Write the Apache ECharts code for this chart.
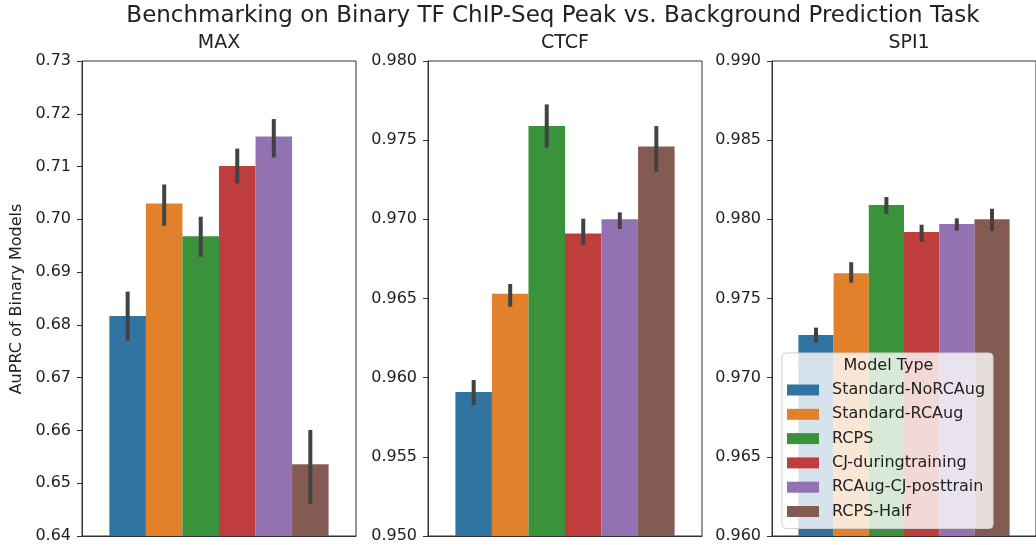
<!DOCTYPE html>
<html>
<head>
<meta charset="utf-8">
<script src="https://cdn.jsdelivr.net/npm/echarts@6/dist/echarts.min.js"></script>
<style>
  html, body { margin: 0; padding: 0; background: #fff; }
  #chart { width: 1036px; height: 545px; }
</style>
</head>
<body>
<div id="chart"></div>
<script>
// Model types (hue) and their colours
const modelTypes = ['Standard-NoRCAug', 'Standard-RCAug', 'RCPS', 'CJ-duringtraining', 'RCAug-CJ-posttrain', 'RCPS-Half'];
const modelColors = ['#3274a1', '#e1812c', '#3a923a', '#c03d3e', '#9372b2', '#845b53'];

// Transcription factors (one panel each)
const panels = ['MAX', 'CTCF', 'SPI1'];

// Mean AuPRC per model type
const maxMeans  = [0.6817, 0.7030, 0.6968, 0.7101, 0.7157, 0.6536];
const ctcfMeans = [0.9591, 0.9653, 0.9759, 0.9691, 0.9700, 0.9746];
const spi1Means = [0.9727, 0.9766, 0.9809, 0.9792, 0.9797, 0.9800];

// Confidence interval [low, high] per model type
const maxCI  = [[0.6770, 0.6863], [0.6988, 0.7066], [0.6929, 0.7005], [0.7068, 0.7134], [0.7117, 0.7190], [0.6461, 0.6601]];
const ctcfCI = [[0.95827, 0.95985], [0.96448, 0.96592], [0.97453, 0.97726], [0.96838, 0.97004], [0.96939, 0.97044], [0.97301, 0.97589]];
const spi1CI = [[0.97221, 0.97316], [0.97600, 0.97729], [0.98034, 0.98141], [0.97857, 0.97966], [0.97928, 0.98006], [0.97926, 0.98067]];

// Y-axis ranges and tick steps
const yMin = [0.64, 0.95, 0.96];
const yMax = [0.73, 0.98, 0.99];
const yStep = [0.01, 0.005, 0.005];
const yDecimals = [2, 3, 3];

const means = [maxMeans, ctcfMeans, spi1Means];
const cis = [maxCI, ctcfCI, spi1CI];

const FONT = 'DejaVu Sans';
const TEXT = '#222';
const gridLeft = [82, 428, 772];
const gridWidth = 274;
const gridTop = 61;
const gridHeight = 475;
const GROUP = 0.8; // fraction of the category band covered by the bars

const grids = [], xAxes = [], yAxes = [], series = [];

panels.forEach((name, p) => {
  grids.push({
    left: gridLeft[p], top: gridTop, width: gridWidth, height: gridHeight,
    show: true, borderColor: '#333', borderWidth: 1, backgroundColor: 'transparent'
  });
  xAxes.push({
    type: 'category', gridIndex: p, data: [''], z: 10,
    axisLine: { show: true, lineStyle: { color: '#333', width: 1 } },
    axisTick: { show: false }, axisLabel: { show: false }, splitLine: { show: false }
  });
  yAxes.push({
    type: 'value', gridIndex: p, min: yMin[p], max: yMax[p], interval: yStep[p],
    axisLine: { show: true, lineStyle: { color: '#333', width: 1 } },
    axisTick: { show: true, length: 5, lineStyle: { color: '#333', width: 1 } },
    axisLabel: {
      margin: 11, fontFamily: FONT, fontSize: 16, color: TEXT,
      showMinLabel: true, showMaxLabel: true,
      formatter: v => v.toFixed(yDecimals[p])
    },
    splitLine: { show: false }
  });

  modelTypes.forEach((m, i) => {
    series.push({
      type: 'bar', name: m, xAxisIndex: p, yAxisIndex: p,
      data: [means[p][i]],
      itemStyle: { color: modelColors[i] },
      barGap: '0%', barCategoryGap: '20%',
      clip: true, silent: true, z: 2
    });
  });

  // error bars drawn at each bar's centre
  series.push({
    type: 'custom', name: 'ci-' + name, xAxisIndex: p, yAxisIndex: p,
    silent: true, z: 5,
    encode: { x: 0, y: [2, 3] },
    data: cis[p].map((c, i) => [0, i, c[0], c[1]]),
    renderItem: (params, api) => {
      const idx = api.value(1);
      const lo = api.coord([0, api.value(2)]);
      const hi = api.coord([0, api.value(3)]);
      const band = api.size([1, 0])[0];
      const bw = band * GROUP / modelTypes.length;
      const x = lo[0] - band * GROUP / 2 + bw * (idx + 0.5);
      return {
        type: 'line',
        shape: { x1: x, y1: lo[1], x2: x, y2: hi[1] },
        style: { stroke: '#424242', lineWidth: 4 }
      };
    }
  });
});

const titleCenters = gridLeft.map(l => l + gridWidth / 2);

const graphics = [
  {
    type: 'text', x: 553, y: 16, z: 100,
    style: { text: 'Benchmarking on Binary TF ChIP-Seq Peak vs. Background Prediction Task',
      font: '23px "DejaVu Sans"', fill: TEXT, textAlign: 'center', textVerticalAlign: 'middle' }
  },
  {
    type: 'text', x: 17, y: 299, rotation: Math.PI / 2, z: 100,
    style: { text: 'AuPRC of Binary Models', font: '16px "DejaVu Sans"', fill: TEXT,
      textAlign: 'center', textVerticalAlign: 'middle' }
  },
  {
    type: 'text', x: 888.5, y: 366, z: 100,
    style: { text: 'Model Type', font: '16px "DejaVu Sans"', fill: TEXT,
      textAlign: 'center', textVerticalAlign: 'middle' }
  }
];
panels.forEach((name, p) => {
  graphics.push({
    type: 'text', x: titleCenters[p], y: 43, z: 100,
    style: { text: name, font: '19px "DejaVu Sans"', fill: TEXT,
      textAlign: 'center', textVerticalAlign: 'middle' }
  });
});

const chart = echarts.init(document.getElementById('chart'), null, { renderer: 'canvas' });
chart.setOption({
  animation: false,
  backgroundColor: '#fff',
  grid: grids,
  xAxis: xAxes,
  yAxis: yAxes,
  legend: {
    data: modelTypes,
    orient: 'vertical',
    left: 782, top: 353,
    padding: [28, 8, 8, 5],
    itemWidth: 32, itemHeight: 11, itemGap: 6.3,
    icon: 'rect',
    backgroundColor: 'rgba(255,255,255,0.8)',
    borderColor: '#d0d0d0', borderWidth: 1, borderRadius: 4,
    selectedMode: false,
    textStyle: { fontFamily: FONT, fontSize: 16, lineHeight: 18, color: TEXT, padding: [0, 0, 0, 8] },
    z: 20
  },
  graphic: graphics,
  series: series
});
</script>
</body>
</html>
